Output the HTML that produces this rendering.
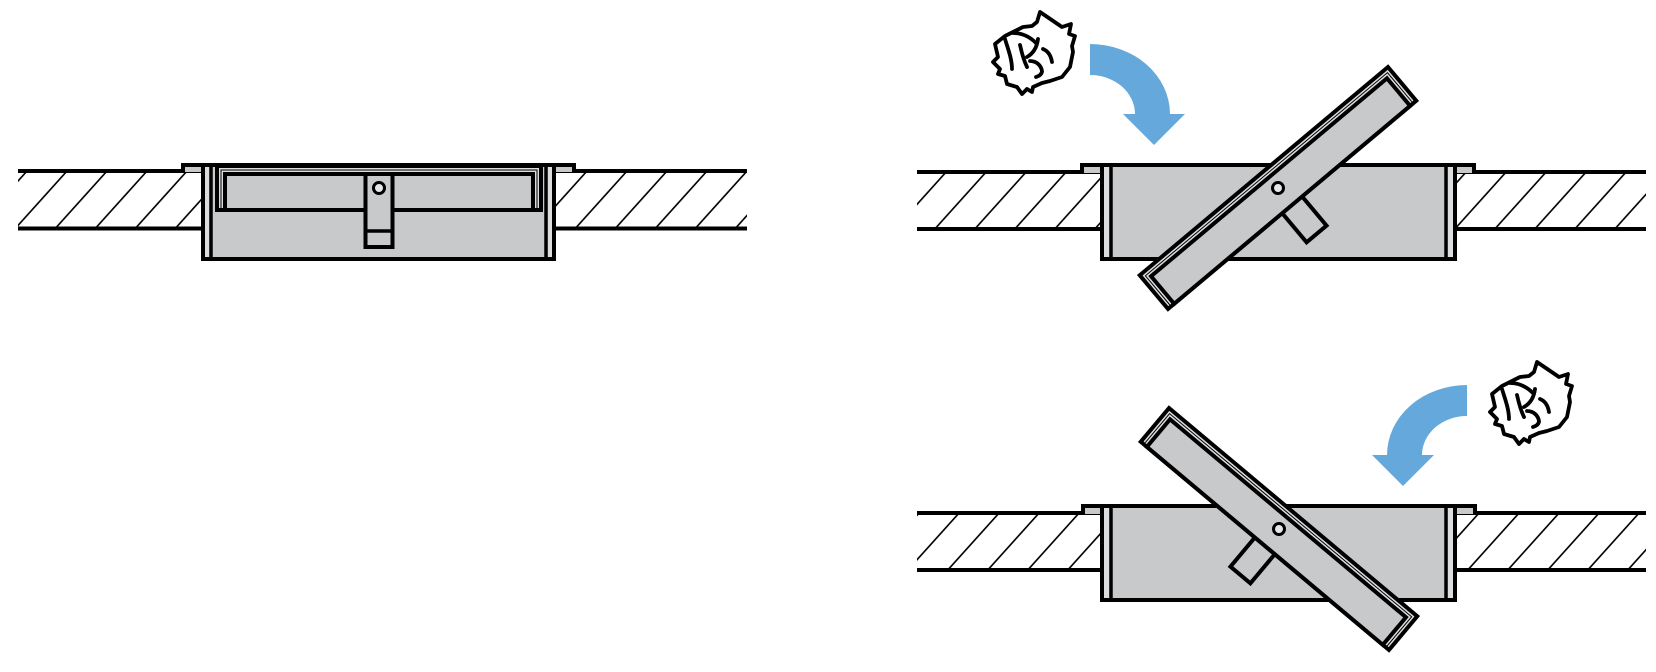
<!DOCTYPE html>
<html><head><meta charset="utf-8">
<style>html,body{margin:0;padding:0;background:#fff}svg{display:block}</style>
</head>
<body>
<svg xmlns="http://www.w3.org/2000/svg" xmlns:xlink="http://www.w3.org/1999/xlink" width="1656" height="672" viewBox="0 0 1656 672">
<defs>
<pattern id="h" width="40" height="10" patternUnits="userSpaceOnUse" patternTransform="skewX(-42)">
<line x1="21" y1="-1" x2="21" y2="11" stroke="#000" stroke-width="2.2"/>
</pattern>
<g id="lidbody">
<rect x="-162" y="-22" width="324" height="44" fill="#dcdddf" stroke="#000" stroke-width="4"/>
<path d="M-158,20 V-18 H158 V20" fill="none" stroke="#000" stroke-width="1"/>
<rect x="-154" y="-14" width="308" height="36" fill="#c8c9cb" stroke="#000" stroke-width="4"/>
</g>
<g id="paper" fill="none" stroke="#000" stroke-width="3.8" stroke-linejoin="round" stroke-linecap="round">
<path fill="#fff" d="M60,3 L82,18 L91,15 L89,25 L95,27 L92,37 L93,43 L90,58 L82,68 L70,72 L62,74 L53,78 L52,83 L47,80 L42,85 L37,78 L27,75 L25,67 L18,65 L20,60 L13,53 L18,48 L15,35 L20,31 L25,27 L33,23 L43,18 L52,17 L57,13 Z"/>
<path d="M25,30 C28,40 32,50 32,60"/>
<path d="M33,24 C42,24 50,28 56,34"/>
<path d="M58,30 C57,38 54,44 47,48"/>
<path d="M63,40 C68,42 71,47 72,53"/>
<path d="M50,52 C56,52 61,56 62,62 C62,65 59,67 56,68"/>
<path d="M40,36 C42,45 44,52 47,58"/>
</g>
<g id="tr">
<rect x="1082" y="165" width="20" height="8" fill="#c8c9cb"/>
<rect x="1455" y="165" width="19" height="8" fill="#c8c9cb"/>
<path d="M1082,173 V165 H1474 V173" fill="none" stroke="#000" stroke-width="4"/>
<rect x="1102" y="165" width="353" height="94" fill="#c8c9cb" stroke="#000" stroke-width="4"/>
<rect x="1104" y="167" width="5" height="90" fill="#dcdddf"/>
<line x1="1111" y1="165" x2="1111" y2="259" stroke="#000" stroke-width="3.5"/>
<rect x="1448" y="167" width="5" height="90" fill="#dcdddf"/>
<line x1="1446" y1="165" x2="1446" y2="259" stroke="#000" stroke-width="3.5"/>
<g transform="translate(1278,188) rotate(-40)">
<rect x="-13" y="20" width="26" height="40" fill="#c8c9cb" stroke="#000" stroke-width="4"/>
<use xlink:href="#lidbody" href="#lidbody"/>
<circle r="5.5" fill="#e6e6e6" stroke="#000" stroke-width="3"/>
</g>
<path d="M1090,44 A80,70 0 0 1 1170,114 L1185,114 L1154,145 L1123,114 L1135,114 A45,39 0 0 0 1090,75 Z" fill="#65a9dc"/>
</g>
</defs>

<!-- LEFT DIAGRAM -->
<rect x="18" y="171" width="185" height="57.5" fill="url(#h)"/>
<rect x="554" y="171" width="193" height="57.5" fill="url(#h)"/>
<path d="M18,171 H203 M18,228.5 H203 M554,171 H747 M554,228.5 H747" stroke="#000" stroke-width="4" fill="none"/>
<rect x="183" y="165" width="20" height="7" fill="#c8c9cb"/>
<rect x="554" y="165" width="20" height="7" fill="#c8c9cb"/>
<path d="M183,172 V165 H574 V172" fill="none" stroke="#000" stroke-width="4"/>
<rect x="203" y="165" width="351" height="94" fill="#c8c9cb" stroke="#000" stroke-width="4"/>
<rect x="205" y="167" width="4" height="90" fill="#dcdddf"/>
<line x1="211" y1="165" x2="211" y2="259" stroke="#000" stroke-width="3.5"/>
<rect x="548" y="167" width="4" height="90" fill="#dcdddf"/>
<line x1="546" y1="165" x2="546" y2="259" stroke="#000" stroke-width="3.5"/>
<g transform="translate(379,188)">
<use xlink:href="#lidbody" href="#lidbody"/>
<rect x="-13.5" y="-14" width="27" height="73" fill="#c8c9cb" stroke="#000" stroke-width="4"/>
<line x1="-13.5" y1="43" x2="13.5" y2="43" stroke="#000" stroke-width="3.5"/>
<circle r="5.5" fill="#e6e6e6" stroke="#000" stroke-width="3"/>
</g>

<!-- TOP RIGHT -->
<rect x="917" y="172" width="185" height="57" fill="url(#h)"/>
<rect x="1455" y="172" width="191" height="57" fill="url(#h)"/>
<path d="M917,172 H1102 M917,229 H1102 M1455,172 H1646 M1455,229 H1646" stroke="#000" stroke-width="4" fill="none"/>
<use xlink:href="#tr" href="#tr"/>
<use xlink:href="#paper" href="#paper" transform="translate(980,9)"/>

<!-- BOTTOM RIGHT -->
<rect x="917" y="513" width="185" height="57" fill="url(#h)"/>
<rect x="1455" y="513" width="191" height="57" fill="url(#h)"/>
<path d="M917,513 H1102 M917,570 H1102 M1455,513 H1646 M1455,570 H1646" stroke="#000" stroke-width="4" fill="none"/>
<use xlink:href="#tr" href="#tr" transform="translate(2557,341) scale(-1,1)"/>
<use xlink:href="#paper" href="#paper" transform="translate(1477,359)"/>
</svg>
</body></html>
